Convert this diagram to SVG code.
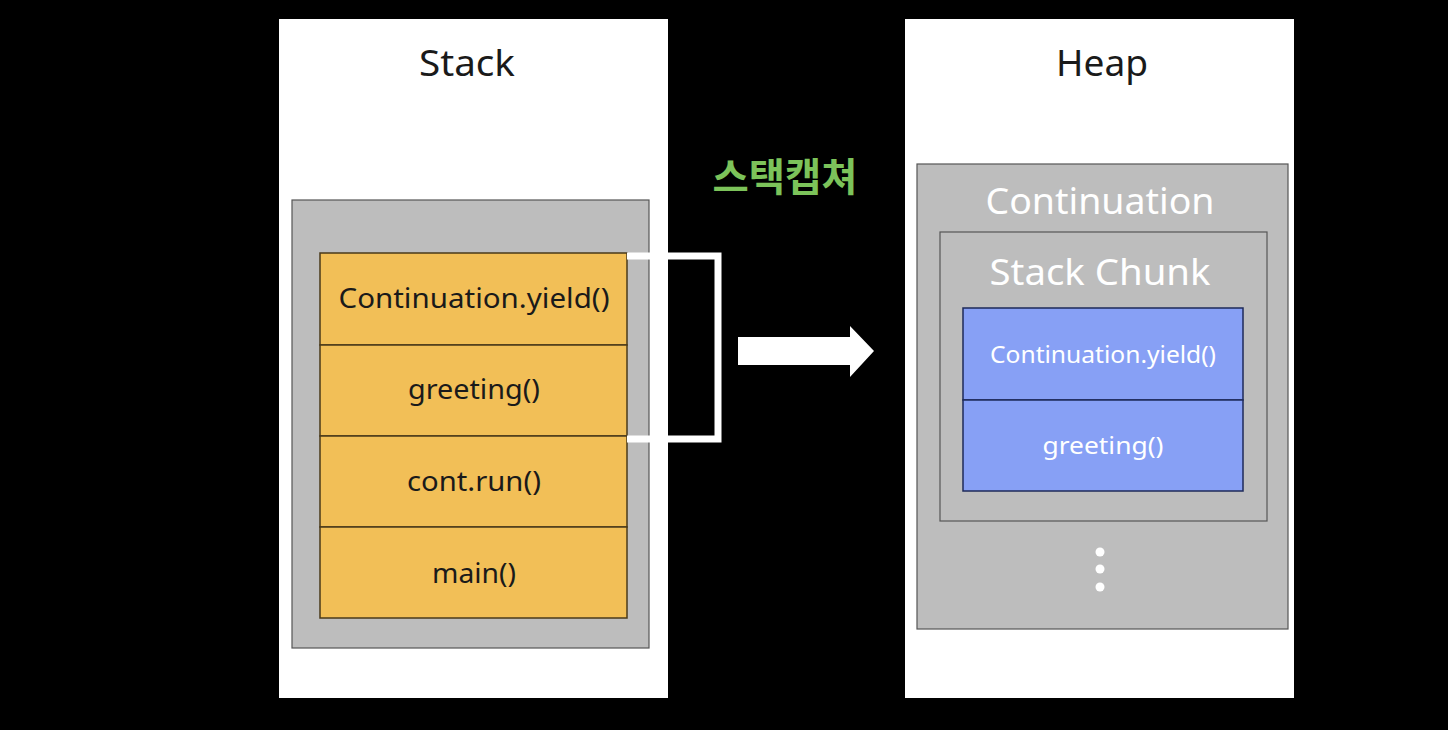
<svg xmlns="http://www.w3.org/2000/svg" width="1448" height="730" viewBox="0 0 1448 730">
<style>
.panel{fill:#ffffff}
.gray{fill:#bdbdbd;stroke:#555;stroke-width:1.2}
.frame{fill:#f2bf57;stroke:#4a3a1a;stroke-width:1.5}
.bframe{fill:#87a0f5;stroke:#1e2a5a;stroke-width:1.5}
.t{font-family:"Noto Sans","Liberation Sans",sans-serif;text-anchor:middle}
.dark{fill:#1a1a1a}
.white{fill:#ffffff}
</style>
<rect x="0" y="0" width="1448" height="730" fill="#000"/>
<g id="stack-panel">
<rect class="panel" x="279" y="19" width="389" height="679"/>
<text class="t dark" x="467" y="76" font-size="36" textLength="96" lengthAdjust="spacingAndGlyphs">Stack</text>
<rect class="gray" x="292" y="200" width="357" height="448"/>
</g>
<g id="frame-yield"><rect class="frame" x="320" y="253" width="307" height="92"/><text class="t dark" x="474" y="308" font-size="27" textLength="271" lengthAdjust="spacingAndGlyphs">Continuation.yield()</text></g>
<g id="frame-greeting"><rect class="frame" x="320" y="345" width="307" height="91"/><text class="t dark" x="474" y="399" font-size="27" textLength="132" lengthAdjust="spacingAndGlyphs">greeting()</text></g>
<g id="frame-run"><rect class="frame" x="320" y="436" width="307" height="91"/><text class="t dark" x="474" y="491" font-size="27" textLength="134" lengthAdjust="spacingAndGlyphs">cont.run()</text></g>
<g id="frame-main"><rect class="frame" x="320" y="527" width="307" height="91"/><text class="t dark" x="474" y="583" font-size="27" textLength="84" lengthAdjust="spacingAndGlyphs">main()</text></g>
<g id="label"><text x="785" y="191" font-family="'Noto Sans CJK KR',sans-serif" font-weight="bold" font-size="39" fill="#7cc35a" text-anchor="middle" textLength="145" lengthAdjust="spacingAndGlyphs">스택캡쳐</text></g>
<g id="connectors">
<polyline points="627,256 718,256 718,439 627,439" fill="none" stroke="#fff" stroke-width="7"/>
<polygon points="738,337 850,337 850,326 874,351 850,377 850,365 738,365" fill="#fff"/>
</g>
<g id="heap-panel">
<rect class="panel" x="905" y="19" width="389" height="679"/>
<text class="t dark" x="1102" y="76" font-size="36" textLength="92" lengthAdjust="spacingAndGlyphs">Heap</text>
</g>
<g id="continuation">
<rect class="gray" x="917" y="164" width="371" height="465"/>
<text class="t white" x="1100" y="214" font-size="37" textLength="229" lengthAdjust="spacingAndGlyphs">Continuation</text>
<circle cx="1100" cy="552" r="4.5" fill="#fff"/>
<circle cx="1100" cy="569" r="4.5" fill="#fff"/>
<circle cx="1100" cy="587" r="4.5" fill="#fff"/>
</g>
<g id="stack-chunk">
<rect class="gray" x="940" y="232" width="327" height="289"/>
<text class="t white" x="1100" y="285" font-size="37" textLength="221" lengthAdjust="spacingAndGlyphs">Stack Chunk</text>
</g>
<g id="heap-yield"><rect class="bframe" x="963" y="308" width="280" height="92"/><text class="t white" x="1103" y="363" font-size="24" textLength="226" lengthAdjust="spacingAndGlyphs">Continuation.yield()</text></g>
<g id="heap-greeting"><rect class="bframe" x="963" y="400" width="280" height="91"/><text class="t white" x="1103" y="454" font-size="24" textLength="121" lengthAdjust="spacingAndGlyphs">greeting()</text></g>
</svg>
